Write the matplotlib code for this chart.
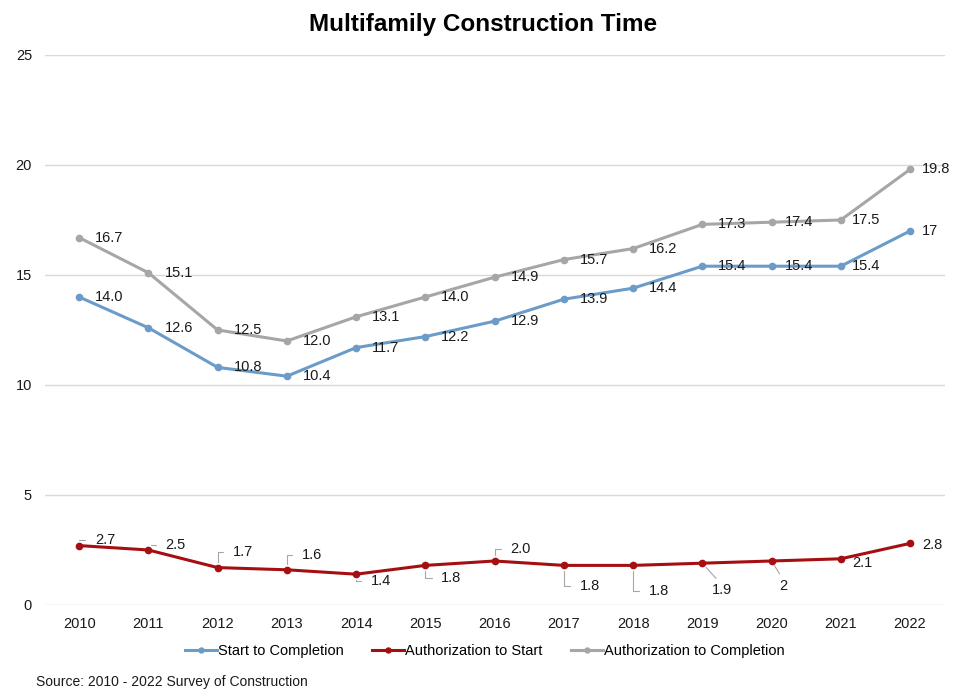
import matplotlib.pyplot as plt

plt.rcParams['font.family'] = ['Liberation Sans', 'DejaVu Sans']

# data
years = ['2010', '2011', '2012', '2013', '2014', '2015', '2016',
         '2017', '2018', '2019', '2020', '2021', '2022']
start_to_completion = [14.0, 12.6, 10.8, 10.4, 11.7, 12.2, 12.9, 13.9, 14.4, 15.4, 15.4, 15.4, 17]
auth_to_start = [2.7, 2.5, 1.7, 1.6, 1.4, 1.8, 2.0, 1.8, 1.8, 1.9, 2, 2.1, 2.8]
auth_to_completion = [16.7, 15.1, 12.5, 12.0, 13.1, 14.0, 14.9, 15.7, 16.2, 17.3, 17.4, 17.5, 19.8]

stc_labels = ['14.0', '12.6', '10.8', '10.4', '11.7', '12.2', '12.9', '13.9', '14.4', '15.4', '15.4', '15.4', '17']
ats_labels = ['2.7', '2.5', '1.7', '1.6', '1.4', '1.8', '2.0', '1.8', '1.8', '1.9', '2', '2.1', '2.8']
atc_labels = ['16.7', '15.1', '12.5', '12.0', '13.1', '14.0', '14.9', '15.7', '16.2', '17.3', '17.4', '17.5', '19.8']

series_names = ['Start to Completion', 'Authorization to Start', 'Authorization to Completion']
colors = ['#6b9bc8', '#a50f12', '#a6a6a6']

# label offsets in pixels (dx to left edge of text, dy to text centre)
label_dx = [16, 16, 16, 16, 16, 16, 16, 16, 16, 16, 13, 11, 12]
red_dx = [16, 17, 15, 15, 15, 16, 16, 16, 16, 10, 8, 11, 12]
red_dy = [6, 5, 16, 15, -7, -13, 12, -21, -26, -27, -25, -4, -2]
red_leader = ['angle', 'angle', 'angle', 'angle', 'angle', 'angle', 'angle',
              'angle', 'angle', 'straight', 'straight', None, None]

fig = plt.figure(figsize=(9.6, 6.9), dpi=100)
ax = fig.add_axes([0.0464, 0.1232, 0.9376, 0.7971])

x = list(range(len(years)))
ax.plot(x, start_to_completion, '-o', color=colors[0], lw=2.2, ms=4.5, label=series_names[0], zorder=3)
ax.plot(x, auth_to_start, '-o', color=colors[1], lw=2.2, ms=4.5, label=series_names[1], zorder=3)
ax.plot(x, auth_to_completion, '-o', color=colors[2], lw=2.2, ms=4.5, label=series_names[2], zorder=3)

txt_kw = dict(textcoords='offset pixels', ha='left', va='center', fontsize=10.5, color='#1a1a1a')
for i in x:
    ax.annotate(atc_labels[i], (i, auth_to_completion[i]), xytext=(label_dx[i], 0), **txt_kw)
    ax.annotate(stc_labels[i], (i, start_to_completion[i]), xytext=(label_dx[i], 0), **txt_kw)
    if red_leader[i] == 'angle':
        ap = dict(arrowstyle='-', color='#a6a6a6', lw=0.8, relpos=(0, 0.5),
                  connectionstyle='angle,angleA=0,angleB=90,rad=0', shrinkA=5, shrinkB=4)
    elif red_leader[i] == 'straight':
        ap = dict(arrowstyle='-', color='#a6a6a6', lw=0.8, relpos=(0.4, 1.0),
                  shrinkA=2, shrinkB=4)
    else:
        ap = None
    ax.annotate(ats_labels[i], (i, auth_to_start[i]), xytext=(red_dx[i], red_dy[i]),
                arrowprops=ap, **txt_kw)

ax.set_xlim(-0.5, len(years) - 0.5)
ax.set_ylim(0, 25)
ax.set_yticks([0, 5, 10, 15, 20, 25])
ax.set_xticks(x)
ax.set_xticklabels(years)
ax.grid(axis='y', color='#d9d9d9', lw=1)
ax.set_axisbelow(True)
for s in ax.spines.values():
    s.set_visible(False)
ax.tick_params(length=0, labelsize=10.5, labelcolor='#1a1a1a')
ax.tick_params(axis='y', pad=9)
ax.tick_params(axis='x', pad=9)

fig.suptitle('Multifamily Construction Time', x=0.503, y=0.9638, fontsize=17.5,
             fontweight='bold', va='center')

fig.legend(loc='center', bbox_to_anchor=(0.505, 0.056), ncol=3, frameon=False,
           fontsize=10.5, handlelength=2.2, handletextpad=0.1, columnspacing=1.9,
           markerscale=0.8)

fig.text(0.037, 0.002, 'Source: 2010 - 2022 Survey of Construction', fontsize=10,
         va='bottom', ha='left', color='#1a1a1a')

fig.savefig('out.png', dpi=100)
